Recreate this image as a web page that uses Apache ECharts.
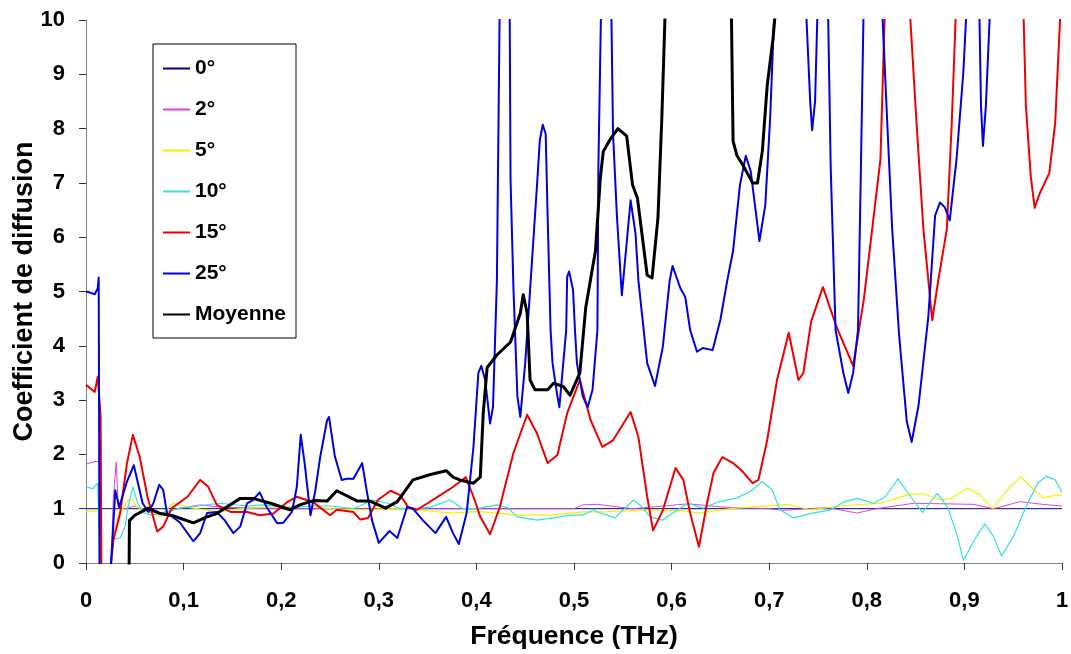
<!DOCTYPE html>
<html>
<head>
<meta charset="utf-8">
<script src="https://cdn.jsdelivr.net/npm/echarts@6/dist/echarts.min.js"></script>
<style>html,body{margin:0;padding:0;background:#fff}#c{width:1071px;height:654px}</style>
</head>
<body>
<div id="c"></div>
<script>
// Tick labels / axis config values
const xTicks = [0, 0.1, 0.2, 0.3, 0.4, 0.5, 0.6, 0.7, 0.8, 0.9, 1];
const seriesNames = ['0°', '2°', '5°', '10°', '15°', '25°', 'Moyenne'];

// [frequency (THz), coefficient]
const deg0 = [[0,1],[0.25,1],[0.5,1],[0.75,1],[1,1]];

const deg2 = [[0,1.82],[0.009,1.87],[0.014,1.87],[0.016,-1],[0.025,-0.5],[0.028,1.2],[0.031,1.86],[0.033,1.03],[0.040,1.0],[0.05,1.05],[0.063,0.95],[0.076,0.91],[0.096,1.01],[0.117,1.07],[0.137,1.03],[0.2,1.0],[0.25,1.0],[0.3,1.0],[0.4,1.0],[0.45,1.0],[0.5,1.0],[0.509,1.07],[0.524,1.08],[0.56,1.0],[0.617,1.09],[0.66,1.02],[0.7,1.0],[0.714,0.97],[0.74,1.0],[0.76,1.02],[0.79,0.92],[0.81,1.0],[0.848,1.1],[0.909,1.08],[0.93,1.0],[0.957,1.13],[0.98,1.08],[1.0,1.05]];

const deg5 = [[0,0.95],[0.011,0.96],[0.014,0.96],[0.016,-1],[0.024,-0.5],[0.028,0.5],[0.033,0.85],[0.043,1.16],[0.048,1.15],[0.052,1.03],[0.066,0.94],[0.076,0.85],[0.089,1.1],[0.104,1.03],[0.134,0.94],[0.158,1.0],[0.219,1.05],[0.25,1.0],[0.279,0.98],[0.322,1.0],[0.376,0.92],[0.401,0.95],[0.442,0.88],[0.476,0.88],[0.509,0.94],[0.53,0.94],[0.578,0.98],[0.612,0.96],[0.629,0.92],[0.66,1.0],[0.681,1.03],[0.719,1.08],[0.742,0.98],[0.773,1.05],[0.814,1.1],[0.832,1.2],[0.842,1.26],[0.858,1.28],[0.875,1.16],[0.886,1.18],[0.903,1.38],[0.916,1.25],[0.929,1.0],[0.944,1.35],[0.958,1.59],[0.968,1.4],[0.981,1.2],[0.991,1.24],[1.0,1.25]];

const deg10 = [[0,1.4],[0.007,1.37],[0.012,1.47],[0.014,1.45],[0.016,-1],[0.025,-0.5],[0.028,0.44],[0.035,0.46],[0.040,0.67],[0.043,1.03],[0.048,1.4],[0.053,1.1],[0.058,0.94],[0.066,0.88],[0.083,0.94],[0.096,1.01],[0.114,1.05],[0.137,1.1],[0.165,1.05],[0.181,1.07],[0.206,1.02],[0.233,1.05],[0.250,1.05],[0.274,1.0],[0.294,1.16],[0.309,1.1],[0.322,1.0],[0.339,1.0],[0.353,1.03],[0.373,1.16],[0.386,1.0],[0.401,1.0],[0.421,1.07],[0.432,1.02],[0.442,0.85],[0.462,0.79],[0.479,0.83],[0.496,0.88],[0.509,0.88],[0.520,0.98],[0.524,0.94],[0.542,0.83],[0.561,1.16],[0.570,1.03],[0.578,0.85],[0.591,0.79],[0.606,0.98],[0.617,1.1],[0.632,1.01],[0.647,1.12],[0.667,1.2],[0.681,1.32],[0.693,1.5],[0.703,1.35],[0.711,0.98],[0.725,0.83],[0.742,0.91],[0.763,0.98],[0.776,1.12],[0.790,1.19],[0.807,1.1],[0.819,1.22],[0.832,1.55],[0.845,1.22],[0.857,0.93],[0.872,1.28],[0.883,1.03],[0.893,0.48],[0.899,0.05],[0.911,0.45],[0.921,0.72],[0.930,0.48],[0.938,0.13],[0.950,0.48],[0.963,1.03],[0.975,1.47],[0.984,1.6],[0.993,1.53],[1.0,1.3]];

const deg15 = [[0,3.28],[0.009,3.15],[0.012,3.43],[0.014,3.45],[0.015,2.7],[0.016,-1],[0.024,-0.3],[0.028,0.42],[0.035,0.92],[0.042,1.84],[0.048,2.36],[0.055,1.96],[0.063,1.22],[0.073,0.58],[0.079,0.67],[0.088,1.01],[0.104,1.22],[0.117,1.53],[0.125,1.41],[0.134,1.07],[0.148,0.94],[0.165,0.94],[0.178,0.88],[0.192,0.91],[0.206,1.12],[0.216,1.22],[0.233,1.12],[0.240,1.02],[0.250,0.88],[0.257,0.98],[0.274,0.94],[0.281,0.8],[0.289,0.83],[0.299,1.16],[0.312,1.33],[0.322,1.25],[0.330,1.03],[0.339,0.98],[0.350,1.1],[0.363,1.25],[0.376,1.4],[0.389,1.58],[0.397,1.22],[0.404,0.85],[0.414,0.53],[0.424,1.03],[0.438,2.03],[0.452,2.73],[0.462,2.39],[0.473,1.84],[0.483,1.99],[0.493,2.76],[0.506,3.37],[0.517,2.63],[0.529,2.14],[0.540,2.26],[0.558,2.78],[0.566,2.32],[0.575,1.22],[0.581,0.6],[0.591,0.97],[0.604,1.75],[0.612,1.53],[0.619,0.92],[0.628,0.3],[0.637,1.16],[0.643,1.66],[0.652,1.95],[0.663,1.84],[0.673,1.68],[0.683,1.47],[0.689,1.53],[0.698,2.27],[0.708,3.37],[0.720,4.24],[0.730,3.37],[0.735,3.5],[0.743,4.45],[0.755,5.08],[0.769,4.35],[0.786,3.63],[0.797,4.86],[0.814,7.44],[0.819,10.5],[0.831,14],[0.843,10.5],[0.851,8.09],[0.858,6.15],[0.867,4.47],[0.873,5.18],[0.882,6.15],[0.887,8.09],[0.892,10.5],[0.93,14],[0.960,10.5],[0.963,8.42],[0.968,7.12],[0.972,6.54],[0.977,6.8],[0.987,7.18],[0.993,8.1],[0.998,10],[1.0,10.5]];

const deg25 = [[0,5.0],[0.004,4.98],[0.009,4.95],[0.012,5.06],[0.013,5.26],[0.014,-1],[0.022,-1],[0.027,0.4],[0.030,1.34],[0.034,1.03],[0.042,1.5],[0.049,1.8],[0.058,1.1],[0.064,0.94],[0.069,1.1],[0.075,1.44],[0.079,1.35],[0.083,0.92],[0.096,0.75],[0.110,0.4],[0.117,0.55],[0.124,0.92],[0.134,0.94],[0.142,0.79],[0.151,0.55],[0.158,0.67],[0.165,1.1],[0.171,1.16],[0.178,1.3],[0.185,1.03],[0.196,0.73],[0.202,0.74],[0.211,0.94],[0.216,1.4],[0.220,2.36],[0.224,1.84],[0.230,0.88],[0.235,1.34],[0.240,1.96],[0.247,2.63],[0.249,2.69],[0.255,1.96],[0.262,1.53],[0.267,1.55],[0.274,1.55],[0.283,1.84],[0.288,1.29],[0.293,0.79],[0.300,0.37],[0.311,0.59],[0.319,0.46],[0.329,1.03],[0.335,1.0],[0.345,0.79],[0.358,0.55],[0.369,0.85],[0.376,0.55],[0.382,0.35],[0.390,0.92],[0.397,2.14],[0.402,3.5],[0.405,3.63],[0.409,3.37],[0.414,2.57],[0.417,2.87],[0.421,5.2],[0.424,10.5],[0.429,14],[0.434,10.5],[0.435,7.05],[0.438,5.03],[0.442,3.07],[0.445,2.69],[0.450,3.68],[0.455,5.03],[0.462,6.93],[0.465,7.79],[0.468,8.07],[0.471,7.9],[0.473,6.38],[0.476,4.29],[0.478,3.68],[0.483,3.07],[0.485,2.87],[0.489,3.68],[0.492,4.29],[0.493,5.27],[0.495,5.37],[0.499,5.03],[0.501,4.29],[0.503,3.68],[0.509,3.07],[0.514,2.87],[0.519,3.19],[0.524,4.29],[0.525,7.3],[0.528,10.5],[0.533,14],[0.538,10.5],[0.540,7.9],[0.544,6.38],[0.549,4.93],[0.558,6.68],[0.563,6.07],[0.566,5.2],[0.575,3.68],[0.583,3.26],[0.591,3.98],[0.598,5.2],[0.601,5.47],[0.609,5.06],[0.614,4.9],[0.619,4.29],[0.626,3.89],[0.632,3.96],[0.642,3.92],[0.650,4.48],[0.657,5.2],[0.663,5.75],[0.670,6.96],[0.676,7.5],[0.681,7.22],[0.690,5.93],[0.696,6.59],[0.701,8.2],[0.706,10.5],[0.72,14],[0.737,10.5],[0.742,8.5],[0.744,7.97],[0.747,8.5],[0.750,10.5],[0.755,14],[0.760,10.5],[0.763,7.3],[0.768,4.29],[0.776,3.5],[0.781,3.13],[0.786,3.5],[0.791,4.29],[0.794,7.3],[0.797,10.5],[0.806,14],[0.815,10.5],[0.821,8.09],[0.826,6.15],[0.833,4.22],[0.841,2.6],[0.846,2.23],[0.853,2.9],[0.863,4.53],[0.870,6.4],[0.875,6.64],[0.880,6.55],[0.885,6.31],[0.892,7.45],[0.899,9.06],[0.903,10.5],[0.91,14],[0.915,10.5],[0.917,8.42],[0.919,7.68],[0.922,8.42],[0.927,10.5],[0.96,14],[1.0,14]];

const moyenne = [[0.044,-0.5],[0.0445,0.78],[0.050,0.88],[0.064,1.01],[0.076,0.91],[0.089,0.87],[0.110,0.74],[0.124,0.85],[0.134,0.91],[0.145,1.04],[0.158,1.19],[0.171,1.19],[0.189,1.1],[0.209,0.98],[0.219,1.07],[0.233,1.15],[0.247,1.14],[0.257,1.33],[0.278,1.14],[0.291,1.14],[0.307,1.01],[0.319,1.13],[0.335,1.53],[0.353,1.63],[0.369,1.7],[0.376,1.58],[0.383,1.53],[0.397,1.47],[0.404,1.58],[0.407,2.76],[0.411,3.6],[0.421,3.83],[0.435,4.07],[0.445,4.6],[0.448,4.94],[0.452,4.6],[0.455,3.37],[0.460,3.19],[0.473,3.19],[0.479,3.31],[0.489,3.25],[0.496,3.09],[0.506,3.5],[0.512,4.7],[0.522,5.75],[0.527,7.09],[0.530,7.58],[0.537,7.8],[0.545,8.0],[0.554,7.86],[0.560,6.96],[0.565,6.72],[0.575,5.3],[0.580,5.25],[0.586,6.35],[0.590,8.2],[0.594,10.5],[0.63,14],[0.661,10.5],[0.663,7.77],[0.667,7.5],[0.673,7.33],[0.683,7.0],[0.688,7.0],[0.693,7.59],[0.698,8.8],[0.704,9.67],[0.708,10.5],[0.75,14],[1.0,14]];

const seriesData = [deg0, deg2, deg5, deg10, deg15, deg25, moyenne];
const colors = ['#000080', '#e040e0', '#f2f200', '#30e0e0', '#ee0000', '#0000e0', '#000000'];
const widths = [1, 1, 1.2, 1.2, 2, 2, 3];

const FONT = "'Liberation Sans', Arial, sans-serif";
const chart = echarts.init(document.getElementById('c'), null, {renderer: 'canvas'});
chart.setOption({
  animation: false,
  backgroundColor: '#ffffff',
  color: colors,
  grid: {left: 86, right: 9, top: 20, bottom: 91, containLabel: false, outerBoundsMode: 'none'},
  legend: {
    orient: 'vertical',
    left: 153, top: 44,
    padding: [14, 10, 13, 9],
    itemWidth: 27, itemHeight: 14, itemGap: 20,
    borderColor: '#000', borderWidth: 1, backgroundColor: '#fff',
    selectedMode: false,
    itemStyle: {opacity: 0},
    textStyle: {fontFamily: FONT, fontWeight: 'bold', fontSize: 21, color: '#000'},
    data: seriesNames
  },
  xAxis: {
    type: 'value', min: 0, max: 1, interval: 0.1,
    name: 'Fréquence (THz)', nameLocation: 'middle', nameGap: 60, nameMoveOverlap: false,
    nameTextStyle: {fontFamily: FONT, fontWeight: 'bold', fontSize: 26.5, color: '#000'},
    axisLine: {show: true, lineStyle: {color: '#808080', width: 1}},
    axisTick: {show: true, length: 7, inside: false, lineStyle: {color: '#333'}},
    splitLine: {show: false},
    axisLabel: {
      fontFamily: FONT, fontWeight: 'bold', fontSize: 22, color: '#000', margin: 27,
      formatter: v => String(Math.round(v * 10) / 10).replace('.', ',')
    }
  },
  yAxis: {
    type: 'value', min: 0, max: 10, interval: 1,
    name: 'Coefficient de diffusion', nameLocation: 'middle', nameGap: 48, nameRotate: 90, nameMoveOverlap: false,
    nameTextStyle: {fontFamily: FONT, fontWeight: 'bold', fontSize: 27, color: '#000'},
    axisLine: {show: true, lineStyle: {color: '#808080', width: 1}},
    axisTick: {show: true, length: 7, inside: false, lineStyle: {color: '#333'}},
    splitLine: {show: false},
    axisLabel: {fontFamily: FONT, fontWeight: 'bold', fontSize: 22, color: '#000', margin: 21}
  },
  series: seriesNames.map((n, i) => ({
    name: n, type: 'line', data: seriesData[i], symbol: 'none', showSymbol: false,
    smooth: false, clip: true, z: i === 6 ? 10 : (i === 0 ? 1 : 2 + i),
    lineStyle: {width: widths[i], color: colors[i], join: 'round'},
    itemStyle: {color: colors[i]}
  }))
});
</script>
</body>
</html>
